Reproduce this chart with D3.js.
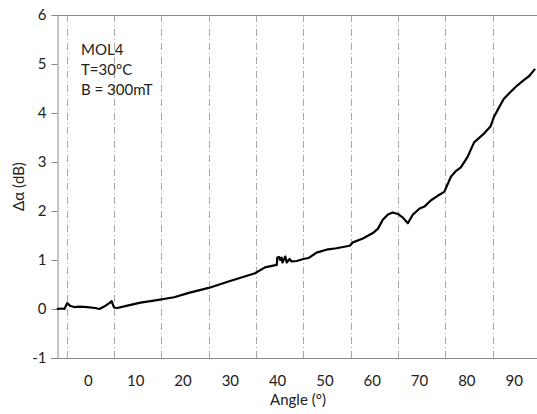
<!DOCTYPE html>
<html>
<head>
<meta charset="utf-8">
<script src="https://cdn.jsdelivr.net/npm/d3@7"></script>
<style>
  body { margin: 0; background: #fff; }
  #chart { width: 537px; height: 414px; }
  text { font-family: Lato, "Open Sans", sans-serif; fill: #222; }
</style>
</head>
<body>
<div id="chart"></div>
<script>
// values
const angle = [-7.1, -6.0, -5.5, -4.9, -4.2, -3.4, -2.3, -0.65, 1.0, 1.9, 2.9, 4.0, 4.5, 4.8, 5.0, 5.7,
  7.8, 10.6, 13.4, 17.7, 20.8, 25.0, 29.2, 34.8, 36.9, 39.4, 39.5, 39.9, 40.1, 40.4, 40.6, 41.2, 41.5,
  42.1, 42.5, 43.6, 45.0, 46.1, 47.8, 49.9, 52.0, 54.8, 55.5, 57.6, 59.7, 60.8, 61.8, 62.9, 63.9,
  65.0, 66.0, 67.1, 68.1, 69.6, 70.6, 72.0, 73.4, 74.8, 76.2, 77.3, 78.3, 79.7, 81.1, 83.2, 84.6,
  85.3, 86.4, 87.4, 88.8, 90.2, 91.6, 92.7, 94.0]
const dAlpha = [0.0, 0.01, 0.0, 0.12, 0.06, 0.04, 0.05, 0.04, 0.02, 0.0, 0.05, 0.12, 0.16, 0.08, 0.03, 0.02,
  0.07, 0.13, 0.17, 0.24, 0.33, 0.43, 0.56, 0.73, 0.85, 0.90, 1.05, 1.06, 1.0, 1.05, 0.95, 1.07, 0.95,
  1.02, 0.97, 0.98, 1.02, 1.04, 1.15, 1.21, 1.24, 1.29, 1.36, 1.44, 1.55, 1.64, 1.82, 1.93, 1.97,
  1.94, 1.87, 1.75, 1.92, 2.05, 2.09, 2.22, 2.31, 2.39, 2.70, 2.82, 2.89, 3.10, 3.40, 3.58, 3.73,
  3.92, 4.12, 4.29, 4.43, 4.56, 4.67, 4.75, 4.90]
const yTicks = [-1, 0, 1, 2, 3, 4, 5, 6]
const xLabels = [0, 10, 20, 30, 40, 50, 60, 70, 80, 90]
const gridAt = [-5, 5, 15, 25, 35, 45, 55, 65, 75, 85]
const notes = ['MOL4', 'T=30°C', 'B = 300mT']

const W = 537, H = 414
const m = { top: 15, right: 0, bottom: 56, left: 57 }

const svg = d3.select('#chart').append('svg')
  .attr('width', W)
  .attr('height', H)

const x = d3.scaleLinear().domain([-7.06, 94.4]).range([m.left, W - m.right])
const y = d3.scaleLinear().domain([-1, 6]).range([H - m.bottom, m.top])

// dash-dot vertical gridlines
svg.append('g').selectAll('line')
  .data(gridAt)
  .enter().append('line')
  .attr('x1', d => Math.round(x(d)) + 0.5)
  .attr('x2', d => Math.round(x(d)) + 0.5)
  .attr('y1', y(6))
  .attr('y2', y(-1))
  .attr('stroke', '#a8a8a8')
  .attr('stroke-dasharray', '7,3,1,3')

// y axis
let yAxis = svg.append('g')
  .attr('transform', 'translate(' + (m.left + 0.5) + ',0)')
  .call(d3.axisLeft(y).tickValues(yTicks).tickFormat(d => String(d)).tickSize(6).tickPadding(5))
yAxis.select('.domain').attr('stroke', '#888')
yAxis.selectAll('.tick line').attr('stroke', '#888')
yAxis.selectAll('.tick text').style('font-size', '15px').attr('fill', '#222')

// bottom and top borders
svg.append('line')
  .attr('x1', m.left - 6).attr('x2', W)
  .attr('y1', Math.round(y(-1)) + 0.5).attr('y2', Math.round(y(-1)) + 0.5)
  .attr('stroke', '#888')
svg.append('line')
  .attr('x1', m.left).attr('x2', W)
  .attr('y1', Math.round(y(6)) + 0.5).attr('y2', Math.round(y(6)) + 0.5)
  .attr('stroke', '#888')

// x labels, no tick marks
svg.append('g').selectAll('text')
  .data(xLabels)
  .enter().append('text')
  .attr('x', d => x(d) - 2)
  .attr('y', y(-1) + 28)
  .attr('text-anchor', 'middle')
  .style('font-size', '15px')
  .text(d => d)

svg.append('text')
  .attr('x', 298)
  .attr('y', 405)
  .attr('text-anchor', 'middle')
  .style('font-size', '15px')
  .text('Angle (°)')

svg.append('text')
  .attr('transform', 'translate(24,' + (y(2.5)) + ') rotate(-90)')
  .attr('text-anchor', 'middle')
  .style('font-size', '15px')
  .text('Δα (dB)')

svg.append('g').selectAll('text')
  .data(notes)
  .enter().append('text')
  .attr('x', 81)
  .attr('y', (d, i) => 55 + i * 20)
  .style('font-size', '15px')
  .text(d => d)

// data curve
const line = d3.line()
  .x(d => x(d[0]))
  .y(d => y(d[1]))
  .curve(d3.curveLinear)

svg.append('path')
  .datum(d3.zip(angle, dAlpha))
  .attr('d', line)
  .attr('fill', 'none')
  .attr('stroke', '#000')
  .attr('stroke-width', 2.2)
  .attr('stroke-linejoin', 'round')
</script>
</body>
</html>
